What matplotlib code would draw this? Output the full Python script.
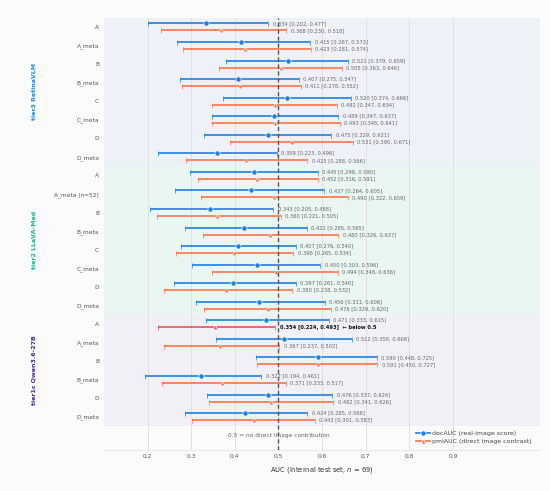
import matplotlib
matplotlib.use("Agg")
import matplotlib.pyplot as plt
import numpy as np
from matplotlib.lines import Line2D

# ---- data ----
tiers = ["tier3 RetinaVLM", "tier2 LLaVA-Med", "tier1c Qwen3.6-27B"]
tier_colors = ["#1E88E5", "#12B886", "#4527A0"]
tier_bg = ["#EEF2F8", "#EAF6F1", "#F2F0F7"]

t3_labels = ["A", "A_meta", "B", "B_meta", "C", "C_meta", "D", "D_meta"]
t3_dec = [0.334, 0.415, 0.521, 0.407, 0.520, 0.489, 0.475, 0.359]
t3_dec_lo = [0.202, 0.267, 0.379, 0.275, 0.374, 0.347, 0.329, 0.223]
t3_dec_hi = [0.477, 0.573, 0.659, 0.547, 0.666, 0.637, 0.621, 0.496]
t3_pmi = [0.368, 0.423, 0.505, 0.411, 0.492, 0.493, 0.531, 0.425]
t3_pmi_lo = [0.230, 0.281, 0.363, 0.278, 0.347, 0.348, 0.390, 0.288]
t3_pmi_hi = [0.518, 0.574, 0.646, 0.552, 0.634, 0.641, 0.671, 0.566]

t2_labels = ["A", "A_meta (n=52)", "B", "B_meta", "C", "C_meta", "D", "D_meta"]
t2_dec = [0.445, 0.437, 0.343, 0.422, 0.407, 0.450, 0.397, 0.456]
t2_dec_lo = [0.298, 0.264, 0.205, 0.285, 0.276, 0.303, 0.261, 0.311]
t2_dec_hi = [0.590, 0.605, 0.488, 0.565, 0.540, 0.596, 0.540, 0.606]
t2_pmi = [0.452, 0.490, 0.360, 0.480, 0.398, 0.494, 0.380, 0.476]
t2_pmi_lo = [0.316, 0.322, 0.221, 0.326, 0.265, 0.348, 0.238, 0.329]
t2_pmi_hi = [0.591, 0.659, 0.505, 0.637, 0.534, 0.636, 0.532, 0.620]

t1_labels = ["A", "A_meta", "B", "B_meta", "D", "D_meta"]
t1_dec = [0.471, 0.512, 0.590, 0.322, 0.476, 0.424]
t1_dec_lo = [0.333, 0.358, 0.448, 0.194, 0.337, 0.285]
t1_dec_hi = [0.615, 0.668, 0.725, 0.461, 0.624, 0.566]
t1_pmi = [0.354, 0.367, 0.591, 0.371, 0.482, 0.443]
t1_pmi_lo = [0.224, 0.237, 0.450, 0.233, 0.341, 0.301]
t1_pmi_hi = [0.493, 0.502, 0.727, 0.517, 0.626, 0.583]

xticks = [0.2, 0.3, 0.4, 0.5, 0.6, 0.7, 0.8, 0.9]

groups = [
    (t3_labels, t3_dec, t3_dec_lo, t3_dec_hi, t3_pmi, t3_pmi_lo, t3_pmi_hi),
    (t2_labels, t2_dec, t2_dec_lo, t2_dec_hi, t2_pmi, t2_pmi_lo, t2_pmi_hi),
    (t1_labels, t1_dec, t1_dec_lo, t1_dec_hi, t1_pmi, t1_pmi_lo, t1_pmi_hi),
]

BLUE = "#1E80E0"
ORANGE = "#FF7446"
RED = "#E5505C"
TXT = "#666666"

fig = plt.figure(figsize=(5.5, 4.91), dpi=100, facecolor="#FBFBFB")
ax = fig.add_axes([0.189, 0.0835, 0.793, 0.8805])
ax.set_facecolor("#FBFBFB")

off = 0.19
ann_fs = 3.7
ytick_pos = []
ytick_lab = []
row = 0
for gi, (labs, dec, dlo, dhi, pmi, plo, phi) in enumerate(groups):
    start = row
    n = len(labs)
    ax.axhspan(start - 0.5, start + n - 0.5, color=tier_bg[gi], zorder=0, lw=0)
    for i in range(n):
        y = row
        ytick_pos.append(y)
        ytick_lab.append(labs[i])
        # dec
        ax.errorbar(dec[i], y - off, xerr=[[dec[i] - dlo[i]], [dhi[i] - dec[i]]],
                    fmt="o", color=BLUE, ms=3.8, mec="white", mew=0.5,
                    elinewidth=1.2, capsize=1.8, capthick=1.2, zorder=3)
        ax.text(dhi[i] + 0.01, y - off, f"{dec[i]:.3f} [{dlo[i]:.3f}, {dhi[i]:.3f}]",
                fontsize=ann_fs, color=TXT, va="center", ha="left", zorder=4)
        # pmi
        highlight = (gi == 2 and i == 0)
        c = RED if highlight else ORANGE
        ax.errorbar(pmi[i], y + off, xerr=[[pmi[i] - plo[i]], [phi[i] - pmi[i]]],
                    fmt="^", color=c, ms=3.4, mec="white", mew=0.5,
                    elinewidth=1.2, capsize=1.8, capthick=1.2, zorder=3)
        if highlight:
            ax.text(phi[i] + 0.01, y + off,
                    f"{pmi[i]:.3f} [{plo[i]:.3f}, {phi[i]:.3f}]  \u2190 below 0.5",
                    fontsize=ann_fs, color="#111111", fontweight="bold",
                    va="center", ha="left", zorder=4)
        else:
            ax.text(phi[i] + 0.01, y + off, f"{pmi[i]:.3f} [{plo[i]:.3f}, {phi[i]:.3f}]",
                    fontsize=ann_fs, color=TXT, va="center", ha="left", zorder=4)
        row += 1
    center = (start + row - 1) / 2
    ax.text(-0.16, center, tiers[gi], transform=ax.get_yaxis_transform(),
            rotation=90, ha="center", va="center", fontsize=4.5,
            fontweight="bold", color=tier_colors[gi])

ax.axvline(0.5, color="#555555", ls=(0, (3, 2)), lw=1.0, zorder=5)
ax.text(0.5, 22.04, "0.5 = no direct image contribution", ha="center",
        va="center", fontsize=4.2, color=TXT, zorder=4)

ax.set_xlim(0.1, 1.1)
ax.set_ylim(22.8, -0.5)
ax.set_xticks(xticks)
ax.set_xticklabels([f"{v:.1f}" for v in xticks], fontsize=4.2, color="#555555")
ax.set_yticks(ytick_pos)
ax.set_yticklabels(ytick_lab, fontsize=4.25, color="#555555")
ax.tick_params(axis="x", length=0, pad=3)
ax.tick_params(axis="y", length=0, pad=3.6)
ax.grid(axis="x", color="#DDDDDD", lw=0.6, zorder=1)
ax.set_axisbelow(True)
for s in ["top", "right", "left"]:
    ax.spines[s].set_visible(False)
ax.spines["bottom"].set_color("#E6E6E6")
ax.spines["bottom"].set_linewidth(0.6)
ax.set_xlabel("AUC (internal test set, $n$ = 69)", fontsize=4.9, color="#333333", labelpad=4)

handles = [
    Line2D([0], [0], color=BLUE, marker="o", ms=3.8, mec="white", mew=0.5, lw=1.2),
    Line2D([0], [0], color=ORANGE, marker="^", ms=3.4, mec="white", mew=0.5, lw=1.2),
]
ax.legend(handles, ["decAUC (real-image score)", "pmiAUC (direct image contrast)"],
          loc="lower right", bbox_to_anchor=(0.987, 0.008), borderaxespad=0,
          frameon=False, fontsize=4.5, handlelength=2.2, labelcolor="#444444",
          borderpad=0.4, labelspacing=0.45, handletextpad=0.35)

fig.savefig("out.png", dpi=100, facecolor=fig.get_facecolor())
